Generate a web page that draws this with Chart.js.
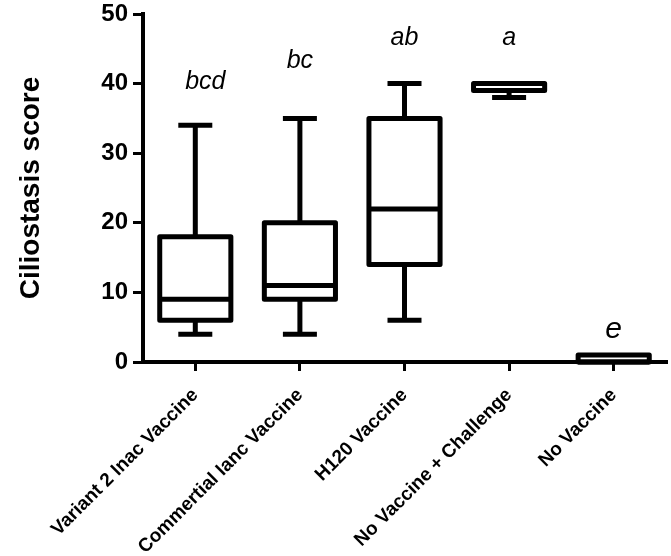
<!DOCTYPE html>
<html>
<head>
<meta charset="utf-8">
<script src="https://cdn.jsdelivr.net/npm/chart.js@4/dist/chart.umd.min.js"></script>
<style>
html,body{margin:0;padding:0;background:#fff;}
#wrap{width:671px;height:556px;}
</style>
</head>
<body>
<div id="wrap"><canvas id="c" width="671" height="556"></canvas></div>
<script>
const categories = ["Variant 2 Inac Vaccine","Commertial Ianc Vaccine","H120 Vaccine","No Vaccine + Challenge","No Vaccine"];
const minVals    = [4, 4, 6, 38, 0];
const q1Vals     = [6, 9, 14, 39, 0];
const medianVals = [9, 11, 22, 40, 0];
const q3Vals     = [18, 20, 35, 40, 1];
const maxVals    = [34, 35, 40, 40, 1];
const letters    = ["bcd", "bc", "ab", "a", "e"];
const letterAt   = [40.2, 43.2, 46.6, 46.6, 4.6];
const yTicks     = [0, 10, 20, 30, 40, 50];

const FONT = '"Liberation Sans", Arial, sans-serif';

const boxPlugin = {
  id: 'boxPlugin',
  afterDatasetsDraw(chart) {
    const ctx = chart.ctx;
    const y = chart.scales.y;
    const meta = chart.getDatasetMeta(0);
    ctx.save();
    ctx.strokeStyle = '#000';
    ctx.lineWidth = 5;
    ctx.lineJoin = 'round';
    ctx.lineCap = 'butt';
    meta.data.forEach((bar, i) => {
      const cx = bar.x;
      const half = bar.width / 2;
      const capHalf = 17;
      const yMin = y.getPixelForValue(minVals[i]);
      const yQ1 = y.getPixelForValue(q1Vals[i]);
      const yMed = y.getPixelForValue(medianVals[i]);
      const yQ3 = y.getPixelForValue(q3Vals[i]);
      const yMax = y.getPixelForValue(maxVals[i]);
      ctx.beginPath();
      if (yMax < yQ3) { ctx.moveTo(cx, yQ3); ctx.lineTo(cx, yMax); ctx.moveTo(cx - capHalf, yMax); ctx.lineTo(cx + capHalf, yMax); }
      if (yMin > yQ1) { ctx.moveTo(cx, yQ1); ctx.lineTo(cx, yMin); ctx.moveTo(cx - capHalf, yMin); ctx.lineTo(cx + capHalf, yMin); }
      ctx.stroke();
      ctx.fillStyle = '#fff';
      ctx.fillRect(cx - half, yQ3, 2 * half, yQ1 - yQ3);
      ctx.strokeRect(cx - half, yQ3, 2 * half, yQ1 - yQ3);
      ctx.beginPath();
      ctx.moveTo(cx - half, yMed); ctx.lineTo(cx + half, yMed);
      ctx.stroke();
    });
    ctx.fillStyle = '#000';
    ctx.textAlign = 'center';
    ctx.textBaseline = 'middle';
    meta.data.forEach((bar, i) => {
      ctx.font = (letters[i] === 'e' ? 'italic 30px ' : 'italic 25px ') + FONT;
      ctx.fillText(letters[i], bar.x + (i === 0 ? 10 : 0), y.getPixelForValue(letterAt[i]));
    });
    ctx.restore();
  }
};

new Chart(document.getElementById('c'), {
  type: 'bar',
  data: {
    labels: categories,
    datasets: [{
      data: q1Vals.map((v, i) => [v, q3Vals[i]]),
      backgroundColor: 'rgba(255,255,255,0)',
      borderWidth: 0,
      categoryPercentage: 1,
      barPercentage: 0.68
    }]
  },
  options: {
    responsive: false,
    animation: false,
    events: [],
    layout: { padding: { top: 14, right: 5, left: 0, bottom: 0 } },
    plugins: { legend: { display: false }, tooltip: { enabled: false } },
    scales: {
      x: {
        offset: true,
        grid: { display: true, drawOnChartArea: false, drawTicks: true, tickLength: 9, lineWidth: 3, color: '#000', offset: false },
        border: { display: true, width: 4, color: '#000' },
        ticks: {
          color: '#000', maxRotation: 45, minRotation: 45, autoSkip: false, padding: 13,
          font: { family: FONT, size: 19, weight: 'bold' }
        },
        afterFit(scale) { scale.height = 194; scale.paddingLeft = 0; scale.paddingRight = 0; }
      },
      y: {
        min: 0, max: 50,
        afterBuildTicks(scale) { scale.ticks = yTicks.map(v => ({ value: v })); },
        grid: { display: true, drawOnChartArea: false, drawTicks: true, tickLength: 10, lineWidth: 3, color: '#000' },
        border: { display: true, width: 4, color: '#000' },
        ticks: {
          color: '#000', padding: 5,
          font: { family: FONT, size: 24, weight: 'bold' }
        },
        title: {
          display: true, text: 'Ciliostasis score', color: '#000', padding: { top: 14, bottom: 10 },
          font: { family: FONT, size: 28, weight: 'bold' }
        },
        afterFit(scale) { scale.width = 143; scale.paddingTop = 0; scale.paddingBottom = 0; }
      }
    }
  },
  plugins: [boxPlugin]
});
</script>
</body>
</html>
